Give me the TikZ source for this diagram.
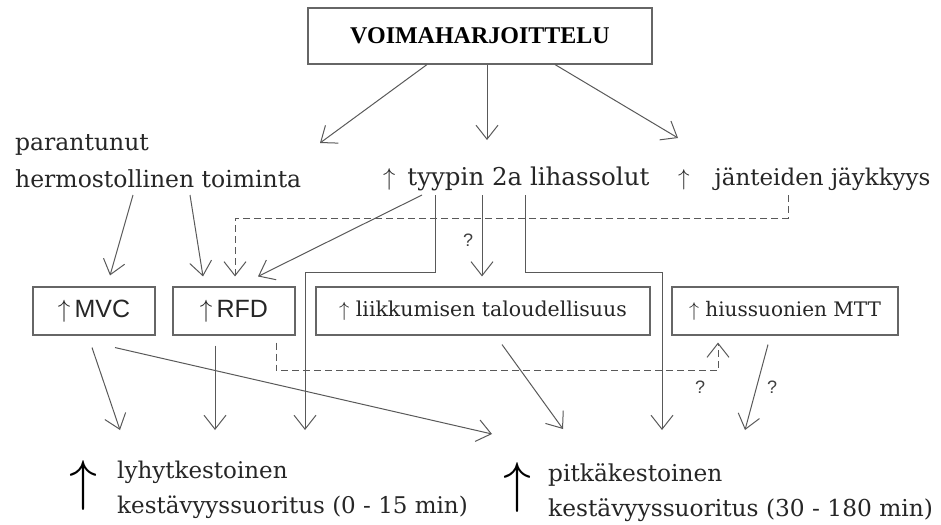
\documentclass[tikz,border=0pt]{standalone}
\usepackage{fix-cm}
\usepackage{fontspec}
\setmainfont{DejaVu Serif}
\setsansfont{Liberation Sans}
\newfontfamily\titlefont{Liberation Serif}
\usetikzlibrary{arrows.meta}

\begin{document}
\begin{tikzpicture}[x=1pt,y=-1pt,
    lin/.style={black!65,line width=1pt},
    arr/.style={lin,-{Straight Barb[length=14pt,width=22pt]}},
    dsh/.style={arr,dash pattern=on 7pt off 4pt},
    box/.style={draw=black!60,line width=1.1pt,minimum height=48pt,inner sep=0pt,text=black!85},
    lbl/.style={inner sep=0pt,align=left,text=black!85,font=\fontsize{23}{36}\selectfont},
    qm/.style={inner sep=0pt,text=black!75,font=\sffamily\fontsize{18}{18}\selectfont}]
    \useasboundingbox (0,0) rectangle (941,524);
    % top ====================================================
    \node[draw=black!60,line width=1.1pt,minimum width=344pt,minimum height=56pt,inner sep=0pt,font=\titlefont\bfseries\fontsize{24}{24}\selectfont] (VH) at (480,36) {VOIMAHARJOITTELU};
    % effects ================================================
    \node[lbl,anchor=north west,font=\fontsize{23.5}{37}\selectfont] (HT) at (15,134) {parantunut\\hermostollinen toiminta};
    \node[lbl,anchor=base west,font=\fontsize{24.5}{24.5}\selectfont] (T2A) at (383,185) {$\uparrow$\hspace{12pt}tyypin 2a lihassolut};
    \node[lbl,anchor=base west,font=\fontsize{23}{23}\selectfont]   (JJ)  at (678,185) {$\uparrow$\hspace{25pt}jänteiden jäykkyys};
    % boxes ==================================================
    \node[box,minimum width=122pt,font=\sffamily\fontsize{25}{25}\selectfont] (MVC) at (94,311)  {$\uparrow$\,MVC};
    \node[box,minimum width=122pt,font=\sffamily\fontsize{25}{25}\selectfont] (RFD) at (234,311) {$\uparrow$\,RFD};
    \node[box,minimum width=334pt,font=\fontsize{20.5}{20.5}\selectfont]      (LT)  at (483,311) {$\uparrow$ liikkumisen taloudellisuus};
    \node[box,minimum width=226pt,font=\fontsize{20}{20}\selectfont]          (MTT) at (785,311) {$\uparrow$ hiussuonien MTT};
    % performance ============================================
    \node[inner sep=0pt,font=\fontsize{56}{56}\selectfont] (LKSup) at (83,485)  {$\uparrow$};
    \node[lbl,anchor=north west,font=\fontsize{23}{35}\selectfont] (LKS) at (117,461) {lyhytkestoinen\\kestävyyssuoritus (0 - 15 min)};
    \node[inner sep=0pt,font=\fontsize{56}{56}\selectfont] (PKSup) at (517,487) {$\uparrow$};
    \node[lbl,anchor=north west,font=\fontsize{23.3}{35}\selectfont] (PKS) at (548,463) {pitkäkestoinen\\kestävyyssuoritus (30 - 180 min)};
    % arrows from training
    \draw[arr] ([xshift=-53pt]VH.south) -- ([shift={(305pt,-9pt)}]HT.north west);
    \draw[arr] ([xshift=7pt]VH.south)   -- ([shift={(104pt,45pt)}]T2A.base west);
    \draw[arr] ([xshift=75pt]VH.south)  -- ([yshift=47pt]JJ.base west);
    % arrows to boxes
    \draw[arr] ([shift={(118pt,-61pt)}]HT.north west) -- ([shift={(16pt,11pt)}]MVC.north);
    \draw[arr] ([shift={(175pt,-61pt)}]HT.north west) -- ([shift={(-31pt,10pt)}]RFD.north);
    \draw[dsh] ([shift={(110pt,-10pt)}]JJ.base west) -- ++(0,23) -| ([shift={(1pt,10pt)}]RFD.north);
    \draw[arr] ([shift={(39pt,-10pt)}]T2A.base west) -- ([shift={(24pt,10pt)}]RFD.north);
    \draw[arr] ([shift={(52pt,-10pt)}]T2A.base west) -- ++(0,77) -| ([shift={(188pt,31pt)}]LKS.north west);
    \draw[arr] ([shift={(99pt,-10pt)}]T2A.base west) -- ([shift={(-1pt,10pt)}]LT.north);
    \draw[arr] ([shift={(142pt,-10pt)}]T2A.base west) -- ++(0,77) -| ([shift={(114pt,33pt)}]PKS.north west);
    % arrows to performance
    \draw[arr] ([shift={(-2pt,-12pt)}]MVC.south)  -- ([shift={(3pt,31pt)}]LKS.north west);
    \draw[arr] ([shift={(21pt,-12pt)}]MVC.south)  -- ([shift={(-56pt,29pt)}]PKS.north west);
    \draw[arr] ([shift={(-19pt,-10pt)}]RFD.south) -- ([shift={(98pt,31pt)}]LKS.north west);
    \draw[dsh] ([shift={(42pt,-7pt)}]RFD.south) -- ++(0,28) -| ([shift={(-67pt,-7pt)}]MTT.south);
    \draw[arr] ([shift={(19pt,-9pt)}]LT.south)   -- ([shift={(15pt,34pt)}]PKS.north west);
    \draw[arr] ([shift={(-17pt,-9pt)}]MTT.south) -- ([shift={(197pt,33pt)}]PKS.north west);
    % question marks
    \node[qm] (Q1) at (468,240) {?};
    \node[qm] (Q2) at (700,387) {?};
    \node[qm] (Q3) at (772,387) {?};
\end{tikzpicture}
\end{document}
